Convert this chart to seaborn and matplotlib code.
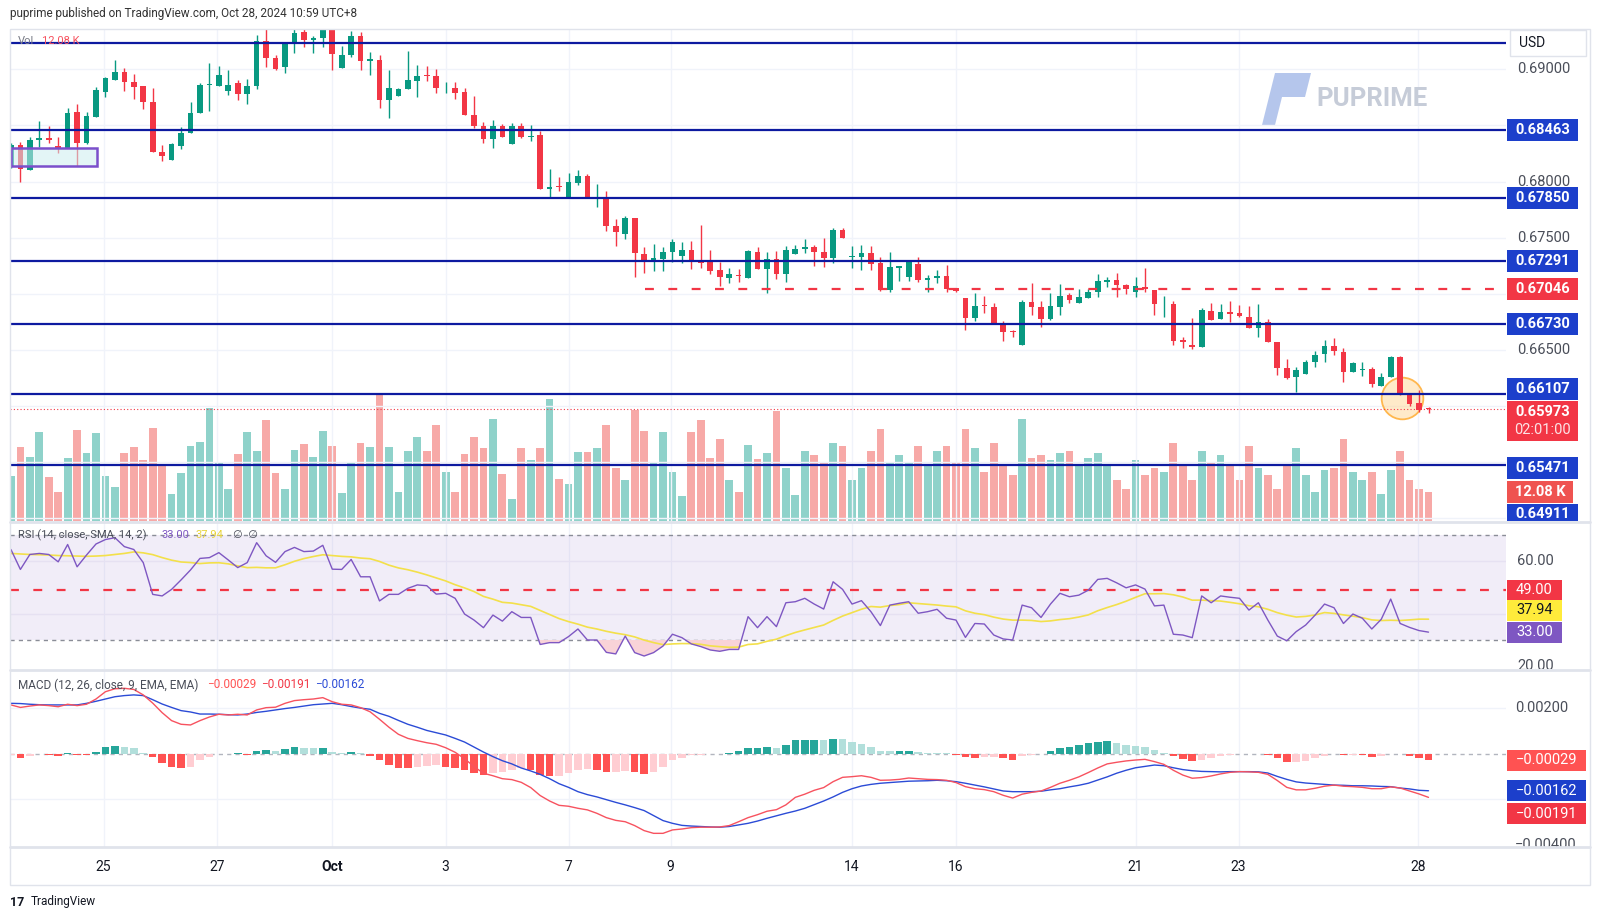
import matplotlib
matplotlib.use("Agg")
import matplotlib.pyplot as plt
from matplotlib.patches import Rectangle, Polygon
from matplotlib.lines import Line2D
from matplotlib.transforms import Bbox
import numpy as np
import pandas as pd
import seaborn as sns

sns.set_theme(style="white")
plt.rcParams["font.family"] = ["Roboto", "DejaVu Sans"]

# ---- 4H candles, AUD/USD, Sep 24 - Oct 28 2024 ----
opens = [0.68133, 0.68327, 0.68104, 0.68368, 0.68392, 0.68318, 0.68297, 0.68624, 0.68341, 0.68579,
         0.68802, 0.68906, 0.68980, 0.68885, 0.68850, 0.68710, 0.68264, 0.68193, 0.68321, 0.68431,
         0.68615, 0.68862, 0.68855, 0.68811, 0.68876, 0.68778, 0.68855, 0.69254, 0.69099, 0.69022,
         0.69227, 0.69331, 0.69260, 0.69283, 0.69381, 0.69016, 0.69129, 0.69298, 0.69075, 0.69084,
         0.68728, 0.68766, 0.68823, 0.68900, 0.68947, 0.68944, 0.68840, 0.68831, 0.68802, 0.68594,
         0.68496, 0.68377, 0.68496, 0.68332, 0.68496, 0.68400, 0.68415, 0.67931, 0.67955, 0.67851,
         0.67990, 0.68050, 0.67851, 0.67851, 0.67607, 0.67530, 0.67673, 0.67355, 0.67286, 0.67310,
         0.67375, 0.67340, 0.67390, 0.67286, 0.67286, 0.67212, 0.67144, 0.67164, 0.67144, 0.67376,
         0.67221, 0.67310, 0.67173, 0.67355, 0.67396, 0.67420, 0.67375, 0.67322, 0.67569, 0.67331,
         0.67325, 0.67361, 0.67277, 0.67034, 0.67233, 0.67153, 0.67263, 0.67123, 0.67138, 0.67159,
         0.67049, 0.66960, 0.66787, 0.66894, 0.66885, 0.66728, 0.66663, 0.66544, 0.66924, 0.66885,
         0.66772, 0.66885, 0.66989, 0.66921, 0.66966, 0.67019, 0.67102, 0.67123, 0.67078, 0.67013,
         0.67058, 0.67034, 0.66906, 0.66909, 0.66588, 0.66544, 0.66529, 0.66850, 0.66772, 0.66835,
         0.66826, 0.66790, 0.66692, 0.66752, 0.66570, 0.66336, 0.66256, 0.66285, 0.66395, 0.66460,
         0.66538, 0.66484, 0.66300, 0.66321, 0.66327, 0.66178, 0.66256, 0.66434, 0.66107, 0.66024,
         0.65975]
highs = [0.68340, 0.68356, 0.68401, 0.68541, 0.68496, 0.68401, 0.68653, 0.68692, 0.68624, 0.68841,
         0.68936, 0.69084, 0.69010, 0.68959, 0.68850, 0.68832, 0.68324, 0.68341, 0.68484, 0.68710,
         0.68876, 0.69055, 0.69031, 0.68995, 0.68906, 0.68912, 0.69310, 0.69375, 0.69129, 0.69245,
         0.69375, 0.69375, 0.69298, 0.69400, 0.69400, 0.69209, 0.69346, 0.69337, 0.69159, 0.69129,
         0.68995, 0.68832, 0.69164, 0.69040, 0.69033, 0.69004, 0.68891, 0.68885, 0.68831, 0.68763,
         0.68534, 0.68549, 0.68514, 0.68520, 0.68520, 0.68504, 0.68451, 0.68109, 0.68044, 0.68074,
         0.68103, 0.68068, 0.67979, 0.67916, 0.67664, 0.67693, 0.67673, 0.67420, 0.67444, 0.67420,
         0.67485, 0.67465, 0.67471, 0.67613, 0.67390, 0.67286, 0.67227, 0.67218, 0.67390, 0.67420,
         0.67369, 0.67384, 0.67426, 0.67435, 0.67488, 0.67435, 0.67500, 0.67583, 0.67589, 0.67429,
         0.67435, 0.67429, 0.67325, 0.67369, 0.67251, 0.67292, 0.67325, 0.67168, 0.67212, 0.67257,
         0.67049, 0.66960, 0.67004, 0.66980, 0.66921, 0.66760, 0.66677, 0.66945, 0.67093, 0.66936,
         0.67004, 0.67087, 0.67010, 0.67040, 0.67040, 0.67176, 0.67153, 0.67182, 0.67084, 0.67153,
         0.67227, 0.67034, 0.66980, 0.66936, 0.66612, 0.66787, 0.66870, 0.66915, 0.66909, 0.66939,
         0.66900, 0.66891, 0.66906, 0.66775, 0.66570, 0.66419, 0.66345, 0.66410, 0.66493, 0.66588,
         0.66603, 0.66514, 0.66395, 0.66395, 0.66345, 0.66291, 0.66446, 0.66446, 0.66113, 0.66143,
         0.65990]
lows = [0.68120, 0.68000, 0.68100, 0.68312, 0.68347, 0.68258, 0.68297, 0.68139, 0.68333, 0.68579,
        0.68757, 0.68906, 0.68811, 0.68734, 0.68648, 0.68264, 0.68184, 0.68193, 0.68291, 0.68431,
        0.68615, 0.68633, 0.68855, 0.68772, 0.68728, 0.68692, 0.68823, 0.69025, 0.68995, 0.68965,
        0.69144, 0.69203, 0.69150, 0.69203, 0.68995, 0.69010, 0.69114, 0.68995, 0.68950, 0.68653,
        0.68570, 0.68760, 0.68823, 0.68757, 0.68897, 0.68787, 0.68793, 0.68733, 0.68594, 0.68481,
        0.68347, 0.68297, 0.68394, 0.68332, 0.68392, 0.68365, 0.67931, 0.67851, 0.67920, 0.67851,
        0.67970, 0.67851, 0.67777, 0.67560, 0.67429, 0.67485, 0.67147, 0.67182, 0.67206, 0.67206,
        0.67286, 0.67272, 0.67221, 0.67233, 0.67173, 0.67069, 0.67099, 0.67108, 0.67144, 0.67218,
        0.67004, 0.67129, 0.67108, 0.67355, 0.67367, 0.67251, 0.67242, 0.67272, 0.67500, 0.67227,
        0.67212, 0.67212, 0.67028, 0.67013, 0.67117, 0.67114, 0.67108, 0.67019, 0.67099, 0.67019,
        0.67019, 0.66677, 0.66761, 0.66826, 0.66728, 0.66579, 0.66612, 0.66544, 0.66811, 0.66707,
        0.66766, 0.66811, 0.66921, 0.66921, 0.66966, 0.66974, 0.67064, 0.66974, 0.66995, 0.66974,
        0.67019, 0.66811, 0.66790, 0.66544, 0.66520, 0.66505, 0.66529, 0.66767, 0.66772, 0.66752,
        0.66796, 0.66692, 0.66612, 0.66573, 0.66276, 0.66241, 0.66122, 0.66285, 0.66351, 0.66395,
        0.66455, 0.66211, 0.66300, 0.66270, 0.66166, 0.66178, 0.66256, 0.66098, 0.66003, 0.65950,
        0.65940]
closes = [0.68327, 0.68110, 0.68371, 0.68392, 0.68368, 0.68300, 0.68615, 0.68347, 0.68582, 0.68817,
          0.68921, 0.68980, 0.68885, 0.68847, 0.68710, 0.68264, 0.68229, 0.68333, 0.68437, 0.68609,
          0.68858, 0.68870, 0.68954, 0.68864, 0.68778, 0.68855, 0.69254, 0.69099, 0.69004, 0.69230,
          0.69322, 0.69260, 0.69277, 0.69381, 0.69135, 0.69129, 0.69298, 0.69075, 0.69093, 0.68728,
          0.68835, 0.68826, 0.68903, 0.68945, 0.68943, 0.68837, 0.68846, 0.68793, 0.68594, 0.68496,
          0.68377, 0.68496, 0.68400, 0.68496, 0.68400, 0.68406, 0.67931, 0.67955, 0.67950, 0.67993,
          0.68050, 0.67851, 0.67855, 0.67607, 0.67554, 0.67673, 0.67361, 0.67286, 0.67322, 0.67375,
          0.67465, 0.67393, 0.67286, 0.67277, 0.67206, 0.67153, 0.67176, 0.67158, 0.67381, 0.67218,
          0.67310, 0.67173, 0.67390, 0.67396, 0.67420, 0.67375, 0.67322, 0.67569, 0.67500, 0.67337,
          0.67361, 0.67263, 0.67034, 0.67236, 0.67251, 0.67280, 0.67123, 0.67138, 0.67159, 0.67040,
          0.67025, 0.66781, 0.66894, 0.66891, 0.66728, 0.66660, 0.66660, 0.66924, 0.66885, 0.66772,
          0.66894, 0.66983, 0.66945, 0.66968, 0.67019, 0.67114, 0.67123, 0.67078, 0.67040, 0.67070,
          0.67040, 0.66909, 0.66912, 0.66582, 0.66570, 0.66529, 0.66856, 0.66767, 0.66841, 0.66817,
          0.66805, 0.66692, 0.66752, 0.66573, 0.66336, 0.66253, 0.66321, 0.66392, 0.66455, 0.66535,
          0.66493, 0.66300, 0.66380, 0.66327, 0.66193, 0.66256, 0.66434, 0.66104, 0.66018, 0.65964,
          0.65973]
volumes = [18.7, 30.5, 26.4, 36.8, 18.3, 11.8, 26.0, 37.6, 28.0, 36.1,
           18.7, 13.9, 28.0, 30.5, 25.1, 38.4, 22.7, 11.0, 19.8, 30.8,
           32.5, 46.4, 23.9, 13.2, 27.6, 36.8, 28.8, 41.6, 19.8, 13.2,
           29.3, 31.7, 26.4, 37.2, 30.9, 11.4, 23.9, 32.1, 30.5, 51.8,
           30.5, 11.8, 28.8, 34.5, 28.8, 39.7, 20.3, 11.8, 27.6, 34.5,
           30.1, 42.0, 19.4, 9.1, 30.1, 25.1, 30.1, 50.1, 17.4, 15.1,
           28.4, 28.4, 30.1, 39.7, 22.0, 16.8, 45.7, 37.2, 24.3, 36.8,
           20.3, 10.3, 36.8, 41.6, 26.0, 33.7, 16.8, 11.8, 31.3, 25.5,
           28.0, 45.3, 22.0, 10.7, 29, 27, 24, 32, 31, 17,
           22, 29, 38, 24, 27, 24, 31, 23, 29, 31,
           24, 38, 30, 20, 32, 23, 19, 42, 26, 27,
           25, 28, 29, 23, 26, 28, 23, 17, 13, 25,
           19, 22, 20, 32, 23, 17, 29, 24, 27, 23,
           17, 31, 22, 19, 13, 23, 30, 19, 12, 21,
           22, 34, 20, 17, 20, 11, 21, 29, 17, 13,
           12.08]

# RSI(14) and the first 13 values of its 14-bar SMA
rsi = [64.5, 56.9, 62.6, 63.0, 62.6, 59.8, 66.4, 57.9, 62.4, 66.6,
       68.3, 69.0, 65.6, 64.5, 59.5, 47.4, 46.8, 49.3, 52.9, 56.7,
       61.1, 61.4, 63.3, 60.5, 57.6, 59.5, 67.1, 62.1, 59.6, 63.7,
       65.3, 63.7, 63.9, 66.1, 57.0, 56.9, 60.7, 54.1, 54.1, 44.9,
       47.4, 47.4, 49.7, 51.0, 50.7, 47.5, 47.8, 45.9, 39.9, 37.6,
       34.7, 39.5, 37.2, 40.8, 38.6, 38.6, 28.3, 29.0, 29.0, 31.3,
       34.2, 30.0, 30.0, 25.3, 24.7, 31.5, 25.2, 23.9, 25.2, 27.7,
       32.2, 30.9, 28.5, 27.5, 26.2, 25.7, 26.4, 26.4, 38.9, 34.7,
       38.9, 35.1, 44.2, 44.6, 45.9, 43.7, 41.8, 52.2, 49.3, 43.7,
       45.0, 40.8, 35.5, 43.3, 44.0, 44.6, 40.2, 40.8, 41.7, 38.3,
       37.6, 31.0, 36.3, 36.1, 31.9, 30.4, 30.0, 43.3, 42.3, 38.6,
       43.7, 47.8, 46.5, 47.1, 49.0, 53.1, 53.5, 51.8, 49.9, 51.0,
       49.4, 43.0, 43.3, 32.2, 31.9, 30.9, 46.8, 44.2, 46.8, 46.3,
       45.9, 41.4, 44.2, 37.6, 31.5, 29.7, 33.2, 35.7, 39.5, 43.7,
       42.3, 36.3, 39.9, 38.3, 34.2, 37.9, 45.6, 36.3, 34.8, 33.6,
       33.0]
rsi_sma_head = [63.0, 62.8, 62.6, 62.5, 62.4, 62.2, 62.1, 62.0, 61.9, 62.0, 62.2, 62.6, 63.0]

# MACD(12, 26, 9) line and signal line
macd = [0.00215, 0.00204, 0.00210, 0.00215, 0.00212, 0.00207, 0.00218, 0.00212, 0.00218, 0.00241,
        0.00273, 0.00286, 0.00288, 0.00283, 0.00259, 0.00223, 0.00181, 0.00146, 0.00130, 0.00127,
        0.00146, 0.00162, 0.00174, 0.00171, 0.00174, 0.00171, 0.00193, 0.00203, 0.00205, 0.00222,
        0.00234, 0.00238, 0.00241, 0.00247, 0.00229, 0.00218, 0.00215, 0.00203, 0.00185, 0.00152,
        0.00117, 0.00086, 0.00068, 0.00058, 0.00049, 0.00042, 0.00027, 0.00007, -0.00021, -0.00056,
        -0.00085, -0.00096, -0.00109, -0.00113, -0.00125, -0.00148, -0.00183, -0.00207, -0.00226, -0.00230,
        -0.00239, -0.00246, -0.00261, -0.00280, -0.00292, -0.00298, -0.00315, -0.00337, -0.00349, -0.00349,
        -0.00334, -0.00330, -0.00324, -0.00322, -0.00322, -0.00321, -0.00315, -0.00298, -0.00280, -0.00267,
        -0.00252, -0.00245, -0.00224, -0.00191, -0.00177, -0.00160, -0.00148, -0.00122, -0.00103, -0.00100,
        -0.00096, -0.00103, -0.00116, -0.00115, -0.00112, -0.00106, -0.00109, -0.00112, -0.00113, -0.00116,
        -0.00126, -0.00144, -0.00153, -0.00157, -0.00166, -0.00182, -0.00194, -0.00177, -0.00169, -0.00163,
        -0.00147, -0.00129, -0.00116, -0.00101, -0.00082, -0.00062, -0.00044, -0.00037, -0.00031, -0.00027,
        -0.00024, -0.00034, -0.00046, -0.00072, -0.00093, -0.00107, -0.00104, -0.00097, -0.00088, -0.00081,
        -0.00078, -0.00079, -0.00081, -0.00090, -0.00117, -0.00147, -0.00158, -0.00158, -0.00151, -0.00142,
        -0.00137, -0.00142, -0.00144, -0.00147, -0.00153, -0.00153, -0.00145, -0.00150, -0.00163, -0.00176,
        -0.00191]
signal = [0.00222, 0.00221, 0.00218, 0.00216, 0.00215, 0.00215, 0.00215, 0.00215, 0.00222, 0.00231,
          0.00241, 0.00251, 0.00256, 0.00259, 0.00256, 0.00238, 0.00219, 0.00204, 0.00190, 0.00184,
          0.00175, 0.00175, 0.00174, 0.00172, 0.00171, 0.00175, 0.00182, 0.00187, 0.00193, 0.00199,
          0.00204, 0.00210, 0.00216, 0.00219, 0.00222, 0.00216, 0.00208, 0.00201, 0.00196, 0.00178,
          0.00165, 0.00147, 0.00130, 0.00117, 0.00103, 0.00093, 0.00083, 0.00068, 0.00052, 0.00030,
          0.00008, -0.00012, -0.00030, -0.00044, -0.00062, -0.00075, -0.00090, -0.00109, -0.00131, -0.00147,
          -0.00166, -0.00179, -0.00189, -0.00201, -0.00213, -0.00224, -0.00236, -0.00249, -0.00271, -0.00293,
          -0.00305, -0.00314, -0.00317, -0.00319, -0.00321, -0.00322, -0.00319, -0.00312, -0.00305, -0.00295,
          -0.00283, -0.00272, -0.00261, -0.00251, -0.00239, -0.00223, -0.00207, -0.00189, -0.00169, -0.00153,
          -0.00141, -0.00134, -0.00129, -0.00126, -0.00123, -0.00120, -0.00119, -0.00118, -0.00116, -0.00118,
          -0.00122, -0.00129, -0.00137, -0.00145, -0.00154, -0.00163, -0.00166, -0.00166, -0.00166, -0.00164,
          -0.00158, -0.00153, -0.00145, -0.00138, -0.00129, -0.00115, -0.00101, -0.00085, -0.00072, -0.00061,
          -0.00055, -0.00049, -0.00052, -0.00061, -0.00069, -0.00074, -0.00077, -0.00078, -0.00079, -0.00078,
          -0.00078, -0.00078, -0.00079, -0.00084, -0.00099, -0.00112, -0.00123, -0.00128, -0.00131, -0.00134,
          -0.00137, -0.00138, -0.00140, -0.00140, -0.00141, -0.00143, -0.00144, -0.00150, -0.00154, -0.00160,
          -0.00162]

# drawn levels and annotations
levels = [0.69233, 0.68463, 0.67850, 0.67291, 0.66730, 0.66107, 0.65471, 0.64911]
resist_level = 0.67046
resist_start = 67.1
box_x = [0.0, 9.07]
box_y = [0.68139, 0.68300]
circle_idx, circle_price = 147.2, 0.66071
rsi_line = 49.0

date_ticks = [9.8, 21.8, 34.0, 46.0, 59.0, 69.8, 89.0, 100.0, 119.0, 129.9, 148.9]
date_labels = ["25", "27", "Oct", "3", "7", "9", "14", "16", "21", "23", "28"]
price_ticks = [0.69, 0.68, 0.675, 0.665]

TEAL, RED = "#089981", "#F23645"
NAVY = "#0D1AA0"
BLUE_TAG = "#1C3FCB"
GRID = "#F0F3FA"

W, H = 1600, 919
fig = plt.figure(figsize=(W / 100, H / 100), dpi=100)
fig.patch.set_facecolor("white")


def axes_px(l, t, r, b):
    a = fig.add_axes([l / W, 1 - b / H, (r - l) / W, (b - t) / H])
    a.set_xlim(-0.1, 158.2)
    for s in a.spines.values():
        s.set_visible(False)
    a.set_xticks([])
    a.set_yticks([])
    a.set_facecolor("none")
    return a


ax = axes_px(10, 29, 1506, 521)
ax_rsi = axes_px(10, 523, 1506, 669)
ax_macd = axes_px(10, 671, 1506, 847)

df = pd.DataFrame({"o": opens, "h": highs, "l": lows, "c": closes, "v": volumes})
df["i"] = np.arange(len(df))
up = df["c"] >= df["o"]
ccol = np.where(up, TEAL, RED)
vcol = np.where(up, "#8FD2CA", "#F7A9A7")

# ---- price pane ----
ax.set_ylim(0.64975, 0.69360)
for t in date_ticks:
    for a in (ax, ax_rsi, ax_macd):
        a.axvline(t, color=GRID, lw=1, zorder=0)
for p in np.arange(0.650, 0.6951, 0.005):
    ax.axhline(p, color=GRID, lw=1, zorder=0)

axv = ax.twinx()
axv.set_ylim(0, 202.8)
axv.bar(df["i"], df["v"], width=0.82, color=vcol, lw=0)
axv.axis("off")
ax.set_zorder(axv.get_zorder() + 1)

ax.plot([circle_idx], [circle_price], "o", ms=30, mfc=(1.0, 0.85, 0.62, 0.55),
        mec="#FFB74D", mew=1.3, zorder=2)
ax.vlines(df["i"], df["l"], df["h"], color=ccol, lw=1, zorder=3)
body = (df["c"] - df["o"]).abs().clip(lower=0.00007)
ax.bar(df["i"], body, bottom=df[["o", "c"]].min(axis=1), width=0.6, color=ccol, lw=0, zorder=4)

ax.add_patch(Rectangle((box_x[0], box_y[0]), box_x[1] - box_x[0], box_y[1] - box_y[0],
                       fc=(0.80, 0.93, 0.94, 0.55), ec="#7B4FCB", lw=1.8, zorder=5))
for lv in levels:
    ax.axhline(lv, color=NAVY, lw=1.6, zorder=6)
ax.hlines(resist_level, resist_start, 158.2, color=RED, lw=1.6, linestyles=(0, (4, 6.5)), zorder=6)
ax.axhline(closes[-1], color=RED, lw=0.8, ls=(0, (1, 2)), zorder=6)

# ---- RSI pane ----
ax_rsi.set_ylim(18.95, 74.6)
ax_rsi.axhspan(30, 70, color="#7E57C2", alpha=0.1, lw=0, zorder=0)
for g in (40, 60):
    ax_rsi.axhline(g, color="#E6E1F2", lw=1, zorder=0)
for g in (30, 70):
    ax_rsi.axhline(g, color="#8A8D97", lw=1, ls=(0, (3, 3)), zorder=1)
ax_rsi.axhline(rsi_line, color=RED, lw=1.6, ls=(0, (4, 6.5)), zorder=2)
rsi_s = pd.Series(rsi)
rsi_sma = rsi_s.rolling(14).mean()
rsi_sma.iloc[:13] = rsi_sma_head
r = rsi_s.to_numpy()
ax_rsi.fill_between(df["i"], r, 30, where=r < 30, interpolate=True, color="#F9D3D8", lw=0, zorder=1)
sns.lineplot(x=df["i"], y=rsi_sma, ax=ax_rsi, color="#F3E04A", lw=1.2, zorder=3)
sns.lineplot(x=df["i"], y=r, ax=ax_rsi, color="#7E57C2", lw=1.0, zorder=4)

# ---- MACD pane ----
ax_macd.set_ylim(-0.00409, 0.00364)
for g in (0.002, -0.002):
    ax_macd.axhline(g, color=GRID, lw=1, zorder=0)
ax_macd.axhline(0, color="#B2B5BE", lw=1, ls=(0, (3, 3)), zorder=1)
hist = np.array(macd) - np.array(signal)
prev = np.r_[hist[0], hist[:-1]]
hcol = np.where(hist >= 0, np.where(hist >= prev, "#26A69A", "#B2DFDB"),
                np.where(hist < prev, "#FF5252", "#FFCDD2"))
ax_macd.bar(df["i"], hist, width=0.8, color=hcol, lw=0, zorder=2)
sns.lineplot(x=df["i"], y=signal, ax=ax_macd, color="#2B4BD6", lw=1.0, zorder=3)
sns.lineplot(x=df["i"], y=macd, ax=ax_macd, color="#F7525F", lw=1.0, zorder=4)
for a in (ax, ax_rsi, ax_macd):
    a.set_xlabel("")
    a.set_ylabel("")
    a.set_xlim(-0.1, 158.2)


def ypx(a, v):
    return H - a.transData.transform((0, v))[1]


def ftext(x, y, s, **kw):
    return fig.text(x / W, 1 - y / H, s, **kw)


def tag(y, text, fc, tc="white", x0=1507, x1=1578, h=22, bold=True, size=10.5):
    fig.add_artist(Rectangle((x0 / W, 1 - (y + h / 2) / H), (x1 - x0) / W, h / H,
                             transform=fig.transFigure, fc=fc, ec="none", zorder=5))
    return ftext((x0 + x1) / 2, y, text, ha="center", va="center", color=tc, fontsize=size,
                 fontweight="bold" if bold else "normal", zorder=6)


# right scale: price
for p in price_ticks:
    ftext(1517, ypx(ax, p), f"{p:.5f}", ha="left", va="center", fontsize=10.5, color="#4A4E59")
fig.add_artist(Rectangle((1510 / W, 1 - 56 / H), 76 / W, 26 / H, transform=fig.transFigure,
                         fc="white", ec="#E0E3EB", lw=1, zorder=5))
ftext(1519, 43, "USD", ha="left", va="center", fontsize=10, color="#131722", zorder=6)
for lv, dy in zip(levels[1:7], [0, 0, 0, 0, -5, 3]):
    tag(ypx(ax, lv) + dy, f"{lv:.5f}", BLUE_TAG)
tag(ypx(ax, resist_level), f"{resist_level:.5f}", RED)
yc = ypx(ax, closes[-1])
fig.add_artist(Rectangle((1507 / W, 1 - (yc + 32) / H), 71 / W, 40 / H, transform=fig.transFigure,
                         fc=RED, ec="none", zorder=5))
ftext(1542.5, yc + 3, f"{closes[-1]:.5f}", ha="center", va="center", color="white",
      fontsize=10.5, fontweight="bold", zorder=6)
ftext(1542.5, yc + 21, "02:01:00", ha="center", va="center", color="#FCE3E5", fontsize=10.5, zorder=6)
tag(ypx(axv, volumes[-1]), f"{volumes[-1]:.2f} K", "#EF5350", x1=1573)
clip_box = Bbox([[1500, H - 521], [1600, H - 500]])
fig.add_artist(Rectangle((1507 / W, 1 - 521 / H), 71 / W, 17 / H, transform=fig.transFigure,
                         fc=BLUE_TAG, ec="none", zorder=5))
t = ftext(1542.5, 514, f"{levels[-1]:.5f}", ha="center", va="center", color="white",
          fontsize=10.5, fontweight="bold", zorder=6)
t.set_clip_box(clip_box)
t.set_clip_on(True)

# right scale: RSI
ftext(1517, ypx(ax_rsi, 60), "60.00", ha="left", va="center", fontsize=10.5, color="#4A4E59")
t = ftext(1517, ypx(ax_rsi, 20), "20.00", ha="left", va="center", fontsize=10.5, color="#4A4E59")
t.set_clip_box(Bbox([[1500, H - 669], [1600, H - 640]]))
t.set_clip_on(True)
tag(ypx(ax_rsi, rsi_line), f"{rsi_line:.2f}", RED, x1=1562, h=21, bold=False)
tag(610.5, f"{rsi_sma.iloc[-1]:.2f}", "#FFEB3B", tc="#131722", x1=1562, h=21, bold=False)
tag(ypx(ax_rsi, rsi[-1]), f"{rsi[-1]:.2f}", "#7E57C2", x1=1562, h=21, bold=False)

# right scale: MACD
ftext(1515, ypx(ax_macd, 0.002), "0.00200", ha="left", va="center", fontsize=10.5, color="#4A4E59")
t = ftext(1515, ypx(ax_macd, -0.004), "\u22120.00400", ha="left", va="center", fontsize=10.5, color="#4A4E59")
t.set_clip_box(Bbox([[1500, H - 847], [1600, H - 820]]))
t.set_clip_on(True)
tag(ypx(ax_macd, hist[-1]), f"\u2212{abs(hist[-1]):.5f}", "#FF5252", x1=1586, h=21, bold=False)
tag(ypx(ax_macd, signal[-1]), f"\u2212{abs(signal[-1]):.5f}", BLUE_TAG, x1=1586, h=21, bold=False)
tag(ypx(ax_macd, macd[-1]) + 16.5, f"\u2212{abs(macd[-1]):.5f}", RED, x1=1586, h=21, bold=False)

# legends
ftext(18, 41, "Vol", fontsize=8, color="#787B86", va="center")
ftext(42, 41, f"{volumes[-1]:.2f} K", fontsize=8, color="#F7525F", va="center")
ftext(18, 535, "RSI (14, close, SMA, 14, 2)", fontsize=8, color="#4A4E59", va="center")
ftext(162, 535, f"{rsi[-1]:.2f}", fontsize=8, color="#7E57C2", va="center")
ftext(196, 535, f"{rsi_sma.iloc[-1]:.2f}", fontsize=8, color="#E8D43A", va="center")
ftext(233, 535, "\u2205  \u2205", fontsize=8, color="#4A4E59", va="center")
ftext(18, 685, "MACD (12, 26, close, 9, EMA, EMA)", fontsize=8.5, color="#4A4E59", va="center")
ftext(207, 685, f"\u2212{abs(hist[-1]):.5f}", fontsize=8.5, color="#FF5252", va="center")
ftext(261, 685, f"\u2212{abs(macd[-1]):.5f}", fontsize=8.5, color=RED, va="center")
ftext(315, 685, f"\u2212{abs(signal[-1]):.5f}", fontsize=8.5, color="#2B4BD6", va="center")

# date axis
for t_, lab in zip(date_ticks, date_labels):
    xd = ax_macd.transData.transform((t_, 0))[0]
    ftext(xd, 867, lab, ha="center", va="center", fontsize=10, color="#131722",
          fontweight="bold" if lab == "Oct" else "normal")

# watermark
fig.add_artist(Polygon([[1262 / W, 1 - 125 / H], [1275 / W, 1 - 125 / H], [1288 / W, 1 - 73 / H],
                        [1275 / W, 1 - 73 / H]], closed=True, transform=fig.transFigure,
                       fc="#B5C6EC", ec="none", zorder=1))
fig.add_artist(Polygon([[1284 / W, 1 - 73 / H], [1311 / W, 1 - 73 / H], [1305 / W, 1 - 97 / H],
                        [1279 / W, 1 - 97 / H], [1282 / W, 1 - 86 / H]], closed=True,
                       transform=fig.transFigure, fc="#B5C6EC", ec="none", zorder=1))
ftext(1316, 99, "PUPRIME", fontsize=18.5, fontweight="bold", color="#C6CCD8", va="center", zorder=1)

# frame, separators, title, footer
fig.add_artist(Rectangle((10 / W, 1 - 885 / H), 1580 / W, 856 / H, transform=fig.transFigure,
                         fill=False, ec="#E0E3EB", lw=1, zorder=7))
for yy in (522, 670, 847):
    fig.add_artist(Line2D([10 / W, 1590 / W], [1 - yy / H, 1 - yy / H], color="#E0E3EB", lw=2,
                          transform=fig.transFigure, zorder=7))
ftext(10, 14, "puprime published on TradingView.com, Oct 28, 2024 10:59 UTC+8", fontsize=8.5,
      color="#333333", va="center")
ftext(10, 902, "17", fontsize=9, fontweight="bold", color="#131722", va="center")
ftext(31, 902, "TradingView", fontsize=8.5, color="#131722", va="center")

fig.savefig("out.png", dpi=100)
